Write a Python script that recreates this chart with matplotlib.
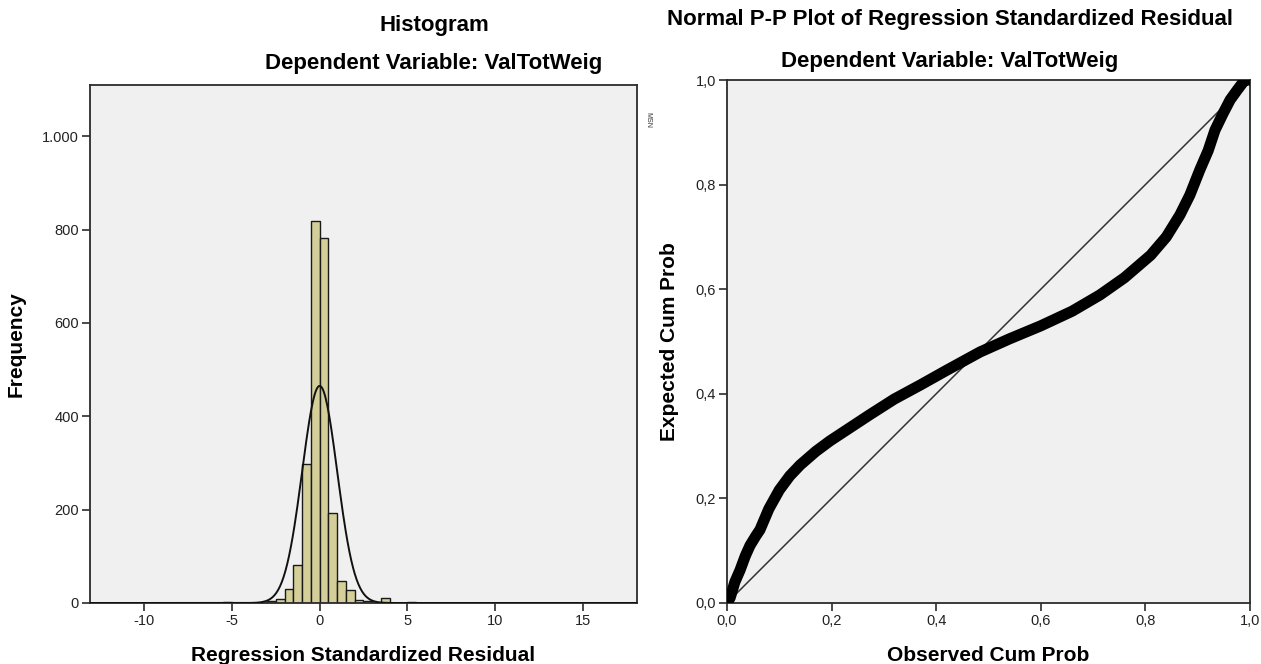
import matplotlib
matplotlib.use('Agg')
import matplotlib.pyplot as plt
from matplotlib.ticker import FuncFormatter
import numpy as np

plt.rcParams['font.family'] = ['Liberation Sans', 'DejaVu Sans']
plt.rcParams['axes.unicode_minus'] = False

# histogram of regression standardized residuals (bin width 0.5, left edges)
bin_left = [-5.5, -5.0, -3.5, -3.0, -2.5, -2.0, -1.5, -1.0, -0.5, 0.0, 0.5, 1.0,
            1.5, 2.0, 2.5, 3.0, 3.5, 5.0, 5.5, 6.5, 8.5, 9.0, 11.0, 14.5]
counts = [2, 1, 1, 5, 9, 29, 82, 298, 818, 783, 193, 47,
          27, 7, 4, 1, 11, 2, 1, 1, 1, 1, 1, 1]
bin_width = 0.5

# normal curve parameters (SPSS legend)
res_mean = 0.0
res_std = 0.999
res_n = 2330

hist_xticks = [-10, -5, 0, 5, 10, 15]
hist_yticks = [0, 200, 400, 600, 800, 1000]

# P-P plot points
obs_cum = [0.0, 0.006, 0.015, 0.025, 0.035, 0.044, 0.055, 0.063, 0.08, 0.10, 0.12,
           0.14, 0.17, 0.197, 0.235, 0.273, 0.32, 0.37, 0.42, 0.484, 0.54, 0.60,
           0.66, 0.713, 0.76, 0.81, 0.84, 0.866, 0.885, 0.904, 0.92, 0.933, 0.948,
           0.962, 0.975, 0.99, 1.0]
exp_cum = [0.0, 0.01, 0.04, 0.063, 0.09, 0.11, 0.128, 0.14, 0.18, 0.216, 0.243,
           0.264, 0.29, 0.31, 0.335, 0.36, 0.39, 0.417, 0.445, 0.48, 0.505, 0.53,
           0.558, 0.589, 0.622, 0.665, 0.70, 0.742, 0.78, 0.828, 0.865, 0.904, 0.935,
           0.962, 0.98, 1.0, 1.0]
pp_ticks = [0.0, 0.2, 0.4, 0.6, 0.8, 1.0]

W, H = 1261, 664
fig = plt.figure(figsize=(W / 100, H / 100), dpi=100)
fig.patch.set_facecolor('white')


def px_axes(x0, y0, x1, y1):
  return fig.add_axes([x0 / W, 1 - y1 / H, (x1 - x0) / W, (y1 - y0) / H])


def style(ax):
  ax.set_facecolor('#F0F0F0')
  for s in ax.spines.values():
    s.set_color('#2b2b2b')
    s.set_linewidth(1.3)
  ax.tick_params(direction='out', length=6, width=1.2, color='#2b2b2b',
                 labelsize=10.5, labelcolor='#222222', pad=2)
  ax.tick_params(top=False, right=False)


# ---------- histogram ----------
ax1 = px_axes(90, 85, 637, 603)
style(ax1)
ax1.bar(bin_left, counts, width=bin_width, align='edge', color='#D4CF98',
        edgecolor='#1a1a1a', linewidth=1.0, zorder=2)
xs = np.linspace(-13.1, 18.1, 600)
curve = res_n * bin_width / (res_std * np.sqrt(2 * np.pi)) * np.exp(-0.5 * ((xs - res_mean) / res_std) ** 2)
ax1.plot(xs, curve, color='#111111', lw=1.4, zorder=3)
ax1.set_xlim(-13.1, 18.1)
ax1.set_ylim(0, 1110)
ax1.set_xticks(hist_xticks)
ax1.set_yticks(hist_yticks)
ax1.yaxis.set_major_formatter(FuncFormatter(lambda v, p: f'{int(v):,}'.replace(',', '.')))
ax1.set_xlabel('Regression Standardized Residual', fontsize=15, fontweight='bold', labelpad=13)
ax1.set_ylabel('Frequency', fontsize=15, fontweight='bold', labelpad=12)

fig.text(434 / W, 1 - 25 / H, 'Histogram', ha='center', va='center',
         fontsize=16, fontweight='bold')
fig.text(434 / W, 1 - 64 / H, 'Dependent Variable: ValTotWeig', ha='center', va='center',
         fontsize=16, fontweight='bold')
fig.text(648 / W, 1 - 120 / H, 'MSN', rotation=270, ha='center', va='center',
         fontsize=5, color='#333333')

# ---------- P-P plot ----------
ax2 = px_axes(727, 80, 1250, 603)
style(ax2)
ax2.plot([0, 1], [0, 1], color='#333333', lw=1.1, zorder=2)
ax2.plot(obs_cum, exp_cum, color='black', lw=8, solid_capstyle='round',
         solid_joinstyle='round', zorder=3)
ax2.set_xlim(0, 1)
ax2.set_ylim(0, 1)
ax2.set_xticks(pp_ticks)
ax2.set_yticks(pp_ticks)
comma = FuncFormatter(lambda v, p: f'{v:.1f}'.replace('.', ','))
ax2.xaxis.set_major_formatter(comma)
ax2.yaxis.set_major_formatter(comma)
ax2.set_xlabel('Observed Cum Prob', fontsize=15, fontweight='bold', labelpad=13)
ax2.set_ylabel('Expected Cum Prob', fontsize=15, fontweight='bold', labelpad=12)

fig.text(950 / W, 1 - 19 / H, 'Normal P-P Plot of Regression Standardized Residual',
         ha='center', va='center', fontsize=16, fontweight='bold')
fig.text(950 / W, 1 - 61 / H, 'Dependent Variable: ValTotWeig', ha='center', va='center',
         fontsize=16, fontweight='bold')

fig.savefig('out.png', dpi=100)
